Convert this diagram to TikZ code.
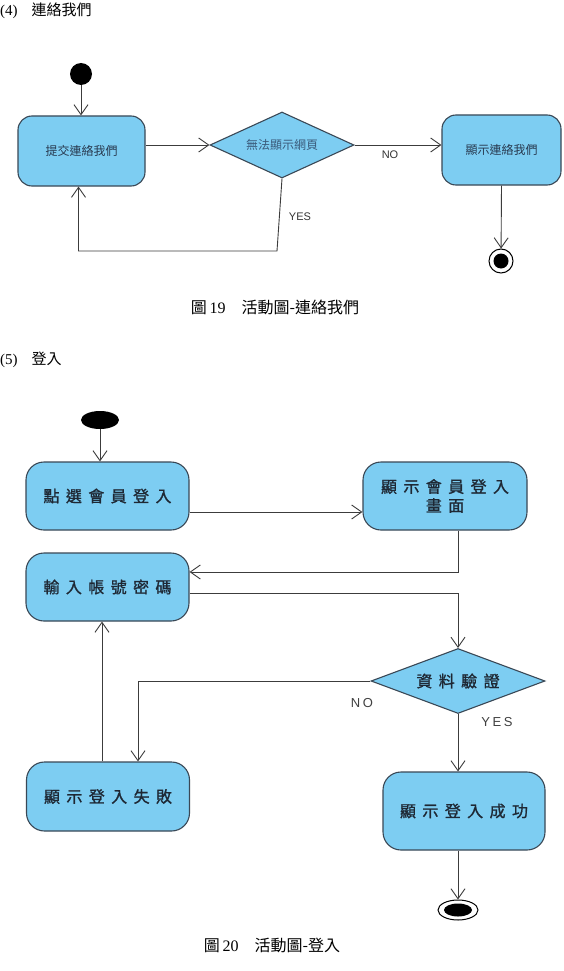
\documentclass[tikz,border=0pt]{standalone}
\usepackage{fontspec}
\setmainfont{Liberation Serif}
\newfontfamily\cjk{Noto Sans CJK TC}
\newfontfamily\cjkw[LetterSpace=40,FakeBold=1.2]{Noto Sans CJK TC}
\newfontfamily\lsans{Liberation Sans}
\newfontfamily\lsansw[LetterSpace=20]{Liberation Sans}
\usetikzlibrary{shapes.geometric,arrows.meta}
\definecolor{boxc}{RGB}{125,205,242}
\definecolor{bordc}{RGB}{58,72,86}
\definecolor{linec}{RGB}{60,60,60}
\definecolor{txtone}{RGB}{40,58,80}
\definecolor{txtdia}{RGB}{58,90,122}
\definecolor{txttwo}{RGB}{30,40,52}
\tikzset{
  act/.style={draw=bordc, fill=boxc, rounded corners=14pt, line width=1.1pt, inner sep=0pt, align=center},
  dec/.style={diamond, draw=bordc, fill=boxc, line width=1.1pt, inner sep=0pt, aspect=2.2},
  arr/.style={draw=linec, line width=0.9pt, -{Straight Barb[length=10pt,width=14pt,line width=0.9pt]}},
  smtxt/.style={font=\cjk\fontsize{12}{14}\selectfont, text=txtone},
  bigtxt/.style={font=\cjkw\fontsize{16}{19}\selectfont, text=txttwo},
  lab/.style={font=\lsans\fontsize{11}{13}\selectfont, text=black!80},
  labw/.style={font=\lsansw\fontsize{13}{15}\selectfont, text=black!75},
  head/.style={font=\fontsize{15}{17}\selectfont, anchor=west, inner sep=0pt},
  capt/.style={font=\fontsize{16}{18}\selectfont, inner sep=0pt},
  startdot/.style={circle, fill=black, inner sep=0pt, minimum size=22pt},
  enddot/.style={circle, draw=black, fill=white, line width=1pt, inner sep=0pt, minimum size=24pt,
    path picture={\fill[black] (path picture bounding box.center) circle (7.5pt);}},
  startell/.style={ellipse, fill=black, inner sep=0pt, minimum width=38pt, minimum height=18pt},
  endell/.style={ellipse, draw=black, fill=white, line width=1pt, inner sep=0pt, minimum width=40pt, minimum height=20pt,
    path picture={\fill[black] (path picture bounding box.center) ellipse (14pt and 6.5pt);}}
}
\begin{document}
\begin{tikzpicture}[x=1pt,y=-1pt]
\useasboundingbox (0,0) rectangle (563,971);
\fill[white] (0,0) rectangle (563,971);

% ---------- Diagram 1 ----------
\node[head] (h4) at (0,11) {(4)\hspace{14pt}{\cjk 連絡我們}};

\node[startdot] (s1) at (81,74) {};
\node[act, smtxt, minimum width=127pt, minimum height=70pt] (b1) at (81.5,151) {提交連絡我們};
\node[dec, minimum width=144pt, minimum height=66pt, font=\cjk\fontsize{12}{14}\selectfont, text=txtdia] (d1) at (282,145) {無法顯示網頁};
\node[act, smtxt, minimum width=119pt, minimum height=70pt] (b2) at (501.5,150) {顯示連絡我們};
\node[enddot] (e1) at (501,261) {};
\coordinate (c1) at (277,251);

\draw[arr] (s1) -- (s1 |- b1.north);
\draw[arr] (b1.east |- d1.west) -- (d1.west);
\draw[arr] (d1.east) -- (d1.east -| b2.west);
\draw[arr] (d1.south) -- (c1) -| ([xshift=-3pt]b1.south);
\draw[arr] (b2.south) -- (e1);

\node[lab] (lno1) at (390,155) {NO};
\node[lab] (lyes1) at (300,217) {YES};

\node[capt] (cap19) at (275,307) {{\cjk 圖}\,19\hspace{16pt}{\cjk 活動圖-連絡我們}};

% ---------- Diagram 2 ----------
\node[head] (h5) at (0,360) {(5)\hspace{14pt}{\cjk 登入}};

\node[startell] (s2) at (100,420) {};
\node[act, bigtxt, minimum width=163pt, minimum height=68pt, rounded corners=18pt] (bA) at (107.5,496) {點選會員登入};
\node[act, bigtxt, minimum width=164pt, minimum height=68pt, rounded corners=18pt] (bB) at (445,496) {顯示會員登入\\畫面};
\node[act, bigtxt, minimum width=163pt, minimum height=68pt, rounded corners=18pt] (bC) at (107.5,587) {輸入帳號密碼};
\node[dec, bigtxt, minimum width=174pt, minimum height=65pt] (d2) at (458,681) {資料驗證};
\node[act, bigtxt, minimum width=163pt, minimum height=69pt, rounded corners=18pt] (bE) at (108,796.5) {顯示登入失敗};
\node[act, bigtxt, minimum width=162pt, minimum height=78pt, rounded corners=18pt] (bD) at (464,811) {顯示登入成功};
\node[endell] (e2) at (458,910) {};

\draw[arr] (s2) -- (s2 |- bA.north);
\draw[arr] ([yshift=-16pt]bA.east) -- ([yshift=-16pt]bA.east -| bB.west);
\draw[arr] ([xshift=13pt]bB.south) |- ([yshift=15pt]bC.east);
\draw[arr] ([yshift=-6pt]bC.east) -| (d2.north);
\draw[arr] (d2.west) -| ([xshift=30pt]bE.north);
\draw[arr] (d2.south) -- (d2.south |- bD.north);
\draw[arr] ([xshift=-6pt]bE.north) -- ([xshift=-6pt]bE.north |- bC.south);
\draw[arr] (d2.south |- bD.south) -- (e2);

\node[labw] (lno2) at (362,703) {NO};
\node[labw] (lyes2) at (497,722) {YES};

\node[capt] (cap20) at (272,945) {{\cjk 圖}\,20\hspace{16pt}{\cjk 活動圖-登入}};
\end{tikzpicture}
\end{document}
